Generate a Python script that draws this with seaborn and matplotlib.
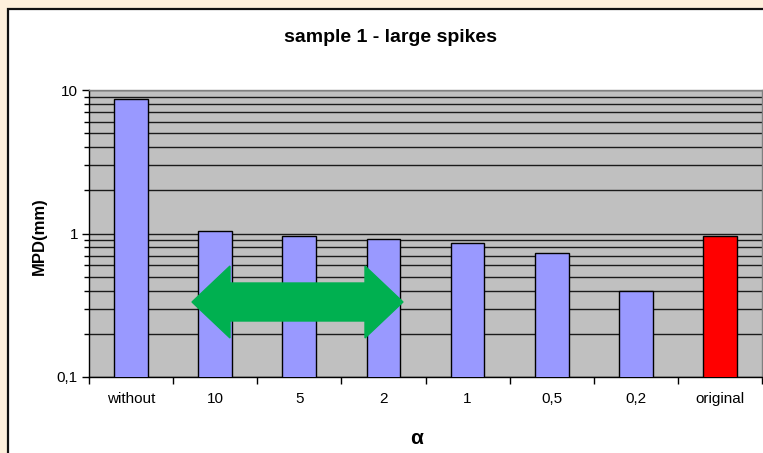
import matplotlib
matplotlib.use("Agg")
import matplotlib.pyplot as plt
from matplotlib.patches import Rectangle, Polygon
from matplotlib.ticker import FixedLocator, FuncFormatter, NullFormatter
import seaborn as sns
import pandas as pd
import numpy as np

# Mean particle displacement for each regularisation weight alpha
categories = ["without", "10", "5", "2", "1", "0,5", "0,2", "original"]
mpd_values = [8.6, 1.04, 0.96, 0.92, 0.86, 0.73, 0.40, 0.96]
bar_colors = ["#9999FF"] * 7 + ["#FF0000"]

sns.set_theme(style="white")
plt.rcParams["font.family"] = ["Liberation Sans", "DejaVu Sans"]
plt.rcParams["text.color"] = "black"
plt.rcParams["axes.labelcolor"] = "black"

fig = plt.figure(figsize=(7.63, 4.53), dpi=100)
fig.patch.set_facecolor("#FEF0DC")

W, H = 763, 453
# white chart panel with dark border
fig.patches.append(Rectangle((8 / W, -0.05), 1.1, 1 - 9 / H + 0.05,
                             transform=fig.transFigure, facecolor="white",
                             edgecolor="#111111", linewidth=1.6, zorder=-5))

ax = fig.add_axes([89 / W, 1 - 377 / H, (762 - 89) / W, (377 - 90) / H])
ax.set_zorder(2)
ax.set_facecolor("#C0C0C0")
ax.set_yscale("log")

df = pd.DataFrame({"alpha": categories, "mpd": mpd_values})
sns.barplot(data=df, x="alpha", y="mpd", hue="alpha", palette=bar_colors,
            legend=False, width=0.4, edgecolor="black", linewidth=1.0,
            saturation=1, ax=ax, zorder=3)

ax.set_ylim(0.1, 10)
ax.set_xlim(-0.5, len(categories) - 0.5)

# y axis: log gridlines at every major and minor step
ax.yaxis.set_major_locator(FixedLocator([0.1, 1, 10]))
ax.yaxis.set_major_formatter(FuncFormatter(lambda v, p: f"{v:g}".replace(".", ",")))
minor = [m * d for d in (0.1, 1) for m in range(2, 10)]
ax.yaxis.set_minor_locator(FixedLocator(minor))
ax.yaxis.set_minor_formatter(NullFormatter())
ax.grid(True, axis="y", which="both", color="#1a1a1a", linewidth=1.0, zorder=1)
ax.set_axisbelow(True)
ax.tick_params(axis="y", which="major", direction="out", length=5, width=1,
               color="black", labelcolor="black", labelsize=11, pad=3, left=True)
ax.tick_params(axis="y", which="minor", direction="out", length=3.5, width=1,
               color="black", left=True)

# x axis: ticks between categories, labels centred on bars
ax.xaxis.set_major_locator(FixedLocator(np.arange(-0.5, len(categories), 1.0)))
ax.xaxis.set_major_formatter(NullFormatter())
ax.xaxis.set_minor_locator(FixedLocator(np.arange(len(categories))))
ax.xaxis.set_minor_formatter(FuncFormatter(lambda v, p: categories[int(round(v))]))
ax.tick_params(axis="x", which="major", direction="out", length=5, width=1,
               color="black", bottom=True)
ax.tick_params(axis="x", which="minor", length=0, labelsize=11,
               labelcolor="black", pad=11)

for side in ("left", "bottom"):
    ax.spines[side].set_color("black")
    ax.spines[side].set_linewidth(1.0)
for side in ("top", "right"):
    ax.spines[side].set_color("#808080")
    ax.spines[side].set_linewidth(1.0)

# axis titles and chart title
ax.set_xlabel("")
ax.set_ylabel("")
fig.text(417 / W, 1 - 439 / H, "α", fontsize=15, fontweight="bold",
         ha="center", va="center")
fig.text(39 / W, 1 - 236 / H, "MPD(mm)", fontsize=12, fontweight="bold",
         rotation=90, ha="center", va="center")
fig.text(390 / W, 1 - 37 / H, "sample 1 - large spikes", fontsize=14,
         fontweight="bold", ha="center", va="center")

# green double-headed arrow over the alpha range 10 .. 2
x0, x1 = (192 - 89) / 673, (403 - 89) / 673
yc = (377 - 302) / 287
sh, hh, hl = 19 / 287, 36 / 287, 38 / 673
pts = [(x0, yc), (x0 + hl, yc + hh), (x0 + hl, yc + sh), (x1 - hl, yc + sh),
       (x1 - hl, yc + hh), (x1, yc), (x1 - hl, yc - hh), (x1 - hl, yc - sh),
       (x0 + hl, yc - sh), (x0 + hl, yc - hh)]
ax.add_patch(Polygon(pts, closed=True, transform=ax.transAxes,
                     facecolor="#00B050", edgecolor="#00B050", linewidth=1,
                     zorder=5, clip_on=False))

fig.savefig("out.png", dpi=100, facecolor=fig.get_facecolor())
